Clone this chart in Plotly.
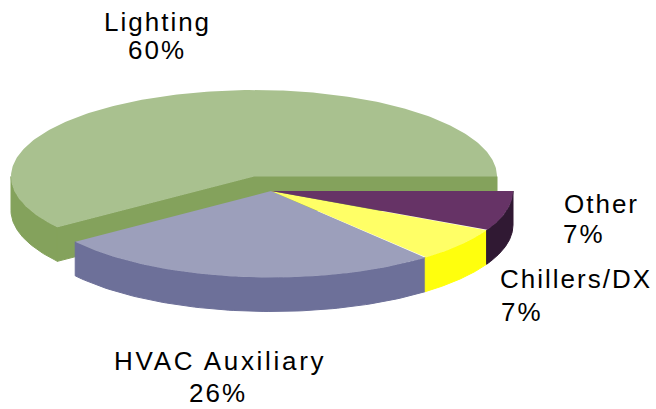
import numpy as np
import plotly.graph_objects as go

labels = ["Lighting", "HVAC Auxiliary", "Chillers/DX", "Other"]
pct_labels = ["60%", "26%", "7%", "7%"]
values = [60, 26, 6.5, 7.5]
top_colors = ["#A9C18F", "#9C9FBB", "#FFFF66", "#663366"]
side_colors = ["#84A25C", "#6D7099", "#FFFF0D", "#301933"]

# Projection of the tilted disc onto the plot's coordinates
centers = [(254, 176.5), (271, 191), (271, 191), (271, 191)]
radii_x = [243, 242, 242, 242]
RY, DEPTH = 86.5, 34

# (x centre, y centre) for name and percentage lines
name_pos = [(157, 22), (220, 361), (576, 279), (601, 204)]
pct_pos = [(157, 50), (218, 393), (522, 312), (584, 234)]

fig = go.Figure()


def poly(xs, ys, color, edge=0):
    fig.add_trace(go.Scatter(x=xs, y=ys, mode="lines", fill="toself", fillcolor=color,
                             line=dict(width=edge, color=color), hoverinfo="skip", showlegend=False))


def pt(c, rx, deg):
    t = np.radians(deg)
    return c[0] + rx * np.cos(t), c[1] - RY * np.sin(t)


edges = np.cumsum([0] + values) * 3.6
for i, (lab, pct) in enumerate(zip(labels, pct_labels)):
    c, rx = centers[i], radii_x[i]
    a, b = edges[i], edges[i + 1]
    # radial walls that face the viewer
    if i == 0:
        for deg in (a, b):
            x, y = pt(c, rx, deg)
            poly([c[0], x, x, c[0], c[0]], [c[1], y, y + DEPTH, c[1] + DEPTH, c[1]], side_colors[i], edge=1)
    # outer wall on the near half of the rim
    lo, hi = max(a, 180), b
    if hi > lo:
        ts = np.linspace(lo, hi, 80)
        xs, ys = pt(c, rx, ts)
        poly(list(xs) + list(xs[::-1]) + [xs[0]], list(ys) + list((ys + DEPTH)[::-1]) + [ys[0]], side_colors[i], edge=1)
    # top face
    ts = np.linspace(a, b, 240)
    xs, ys = pt(c, rx, ts)
    poly([c[0]] + list(xs) + [c[0]], [c[1]] + list(ys) + [c[1]], top_colors[i])
    # labels
    for (x, y), txt in ((name_pos[i], lab), (pct_pos[i], pct)):
        fig.add_annotation(x=x, y=y, text=txt, showarrow=False, xanchor="center", yanchor="middle",
                           xref="x", yref="y",
                           font=dict(family="Liberation Sans, Arial, sans-serif", size=26, color="#000000"))

fig.update_layout(
    width=656, height=409, margin=dict(l=0, r=0, t=0, b=0),
    paper_bgcolor="white", plot_bgcolor="white", showlegend=False,
    xaxis=dict(range=[0, 656], visible=False, fixedrange=True),
    yaxis=dict(range=[409, 0], visible=False, fixedrange=True),
)

spacing_js = """
document.body.style.margin = '0';
document.documentElement.style.overflow = 'hidden';
var gd = document.querySelector('.plotly-graph-div');
gd.querySelectorAll('.annotation-text').forEach(function (t) {
  t.style.letterSpacing = t.textContent.indexOf('HVAC') >= 0 ? '2.7px' : '2px';
});
"""
fig.write_html("out.html", post_script=spacing_js, config={"displayModeBar": False})
